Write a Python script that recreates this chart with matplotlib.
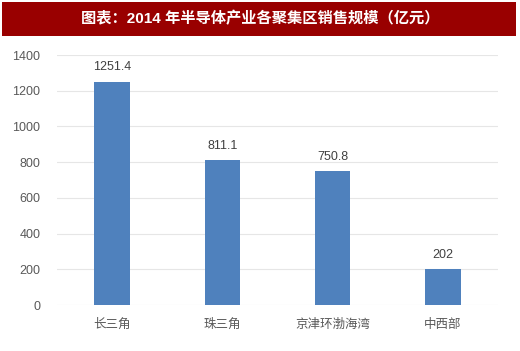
import matplotlib
matplotlib.use('Agg')
import matplotlib.pyplot as plt
from matplotlib.patches import Rectangle

plt.rcParams['font.family'] = ['Liberation Sans', 'Noto Sans CJK SC']

regions = ['长三角', '珠三角', '京津环渤海湾', '中西部']
sales = [1251.4, 811.1, 750.8, 202]
title = '图表：2014 年半导体产业各聚集区销售规模（亿元）'

fig = plt.figure(figsize=(5.2, 3.51), dpi=100)
fig.patches.append(Rectangle((2/520, 1-36/351), 514/520, 34/351, transform=fig.transFigure,
                             facecolor='#990000', edgecolor='none'))
fig.text(0.5, 1-19/351, title, color='white', fontsize=11, fontweight='bold',
         ha='center', va='center', family=['Liberation Sans', 'Noto Sans CJK SC'])

ax = fig.add_axes([57/520, 1-305/351, 441/520, 250/351])
x = range(len(regions))
bars = ax.bar(x, sales, width=0.32, color='#4F81BD', zorder=3)
for xi, v in zip(x, sales):
    ax.text(xi, v + 45, '{:g}'.format(v), ha='center', va='bottom', fontsize=9, color='#404040')

ax.set_xlim(-0.5, len(regions) - 0.5)
ax.set_ylim(0, 1400)
ax.set_yticks(range(0, 1401, 200))
ax.set_xticks(list(x))
ax.set_xticklabels(regions)
ax.grid(axis='y', color='#E6E6E6', linewidth=0.8, zorder=0)
for s in ax.spines.values():
    s.set_visible(False)
ax.tick_params(length=0, labelsize=9, colors='#595959')
ax.tick_params(axis='x', pad=10)
ax.tick_params(axis='y', pad=12)

fig.savefig('out.png', dpi=100)
